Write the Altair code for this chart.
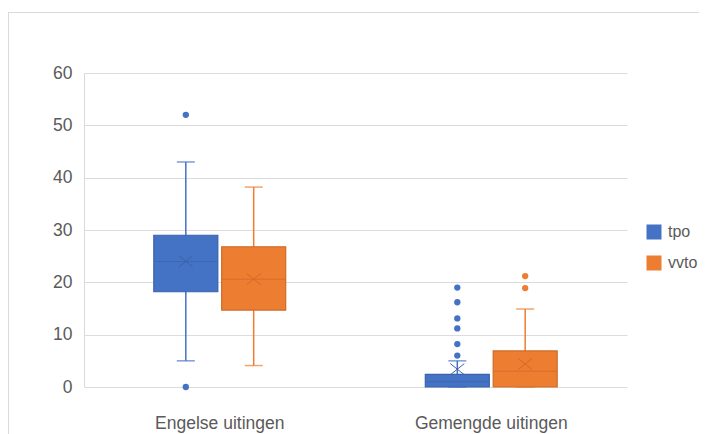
import altair as alt
import pandas as pd

categories = ["Engelse uitingen", "Engelse uitingen", "Gemengde uitingen", "Gemengde uitingen"]
series = ["tpo", "vvto", "tpo", "vvto"]
whisker_low = [5, 4.1, 0, 0]
q1 = [18.2, 14.7, 0, 0]
median = [24, 20.6, 1, 3]
q3 = [29, 26.8, 2.4, 6.9]
whisker_high = [43, 38.2, 5, 14.9]
mean = [24, 20.6, 3.4, 4.4]

outlier_category = ["Engelse uitingen", "Engelse uitingen",
                    "Gemengde uitingen", "Gemengde uitingen", "Gemengde uitingen",
                    "Gemengde uitingen", "Gemengde uitingen", "Gemengde uitingen",
                    "Gemengde uitingen", "Gemengde uitingen"]
outlier_series = ["tpo", "tpo", "tpo", "tpo", "tpo", "tpo", "tpo", "tpo", "vvto", "vvto"]
outlier_value = [52, 0, 19, 16.2, 13.1, 11.2, 8.2, 6.0, 21.2, 18.9]

series_order = ["tpo", "vvto"]
fill_colors = ["#4472C4", "#ED7D31"]
dark_colors = ["#3A62AD", "#CF6A27"]

stats = pd.DataFrame({
    "cat": categories, "series": series, "lo": whisker_low, "q1": q1,
    "median": median, "q3": q3, "hi": whisker_high, "mean": mean,
})
outliers = pd.DataFrame({"cat": outlier_category, "series": outlier_series, "value": outlier_value})

FONT = "Liberation Sans, Arial, Helvetica, sans-serif"
FS = 17.5

x = alt.X("cat:N", title=None, sort=["Engelse uitingen", "Gemengde uitingen"],
          scale=alt.Scale(paddingInner=0, paddingOuter=0),
          axis=alt.Axis(labelAngle=0, domain=False, ticks=False, grid=False,
                        labelPadding=27, labelFontSize=FS, labelColor="#5a5a5a", labelFont=FONT))
xo = alt.XOffset("series:N", sort=series_order,
                 scale=alt.Scale(paddingOuter=1, paddingInner=0))
yscale = alt.Scale(domain=[0, 60])
yaxis = alt.Axis(values=[0, 10, 20, 30, 40, 50, 60], ticks=False, domain=True, domainColor="#d9d9d9",
                 gridColor="#dcdcdc", labelPadding=12, labelFontSize=FS, labelColor="#5a5a5a",
                 labelFont=FONT, title=None)

fill_scale = alt.Scale(domain=series_order, range=fill_colors)
dark_scale = alt.Scale(domain=series_order, range=dark_colors)

base = alt.Chart(stats).encode(x=x, xOffset=xo)

whisker = base.mark_rule(strokeWidth=1.5).encode(
    y=alt.Y("lo:Q", scale=yscale, axis=yaxis), y2="hi:Q",
    color=alt.Color("series:N", scale=fill_scale, legend=None))

cap_lo = base.mark_tick(size=18, thickness=1.5, orient="horizontal").encode(
    y="lo:Q", color=alt.Color("series:N", scale=fill_scale, legend=None))
cap_hi = base.mark_tick(size=18, thickness=1.5, orient="horizontal").encode(
    y="hi:Q", color=alt.Color("series:N", scale=fill_scale, legend=None))

box = base.mark_bar(size=64, strokeWidth=1.2).encode(
    y="q1:Q", y2="q3:Q",
    fill=alt.Fill("series:N", scale=fill_scale,
                  legend=alt.Legend(title=None, orient="none", legendX=562, legendY=151,
                                    symbolType="square", symbolSize=225, symbolStrokeWidth=0,
                                    labelFontSize=16, labelColor="#5a5a5a", labelFont=FONT,
                                    rowPadding=15, labelOffset=6, padding=0)),
    stroke=alt.Stroke("series:N", scale=dark_scale, legend=None))

med = base.mark_tick(size=63, thickness=1, orient="horizontal").encode(
    y="median:Q", color=alt.Color("series:N", scale=dark_scale, legend=None))

mean_mark = base.mark_point(shape="M-1,-0.8L1,0.8M-1,0.8L1,-0.8", size=196, filled=False,
                            strokeWidth=1, opacity=1).encode(
    y="mean:Q", color=alt.Color("series:N", scale=dark_scale, legend=None))

out = alt.Chart(outliers).mark_circle(size=40, opacity=1).encode(
    x=x, xOffset=xo, y="value:Q",
    color=alt.Color("series:N", scale=fill_scale, legend=None))

border_top = alt.Chart(stats).mark_rule(color="#dadada", strokeWidth=1).encode(
    x=alt.value(-75.5), x2=alt.value(650), y=alt.value(-60.5))
border_left = alt.Chart(stats).mark_rule(color="#dadada", strokeWidth=1).encode(
    x=alt.value(-75.5), y=alt.value(-60.5), y2=alt.value(380))

chart = alt.layer(border_top, border_left, whisker, cap_lo, cap_hi, box, med, mean_mark, out).properties(
    width=543, height=314,
    autosize=alt.AutoSizeParams(type="none"),
    padding={"left": 76, "top": 65, "right": 72, "bottom": 47},
    background="white",
).configure_view(stroke=None).resolve_scale(color="independent")

chart.save("out.html", embed_options={"renderer": "svg", "actions": False})
